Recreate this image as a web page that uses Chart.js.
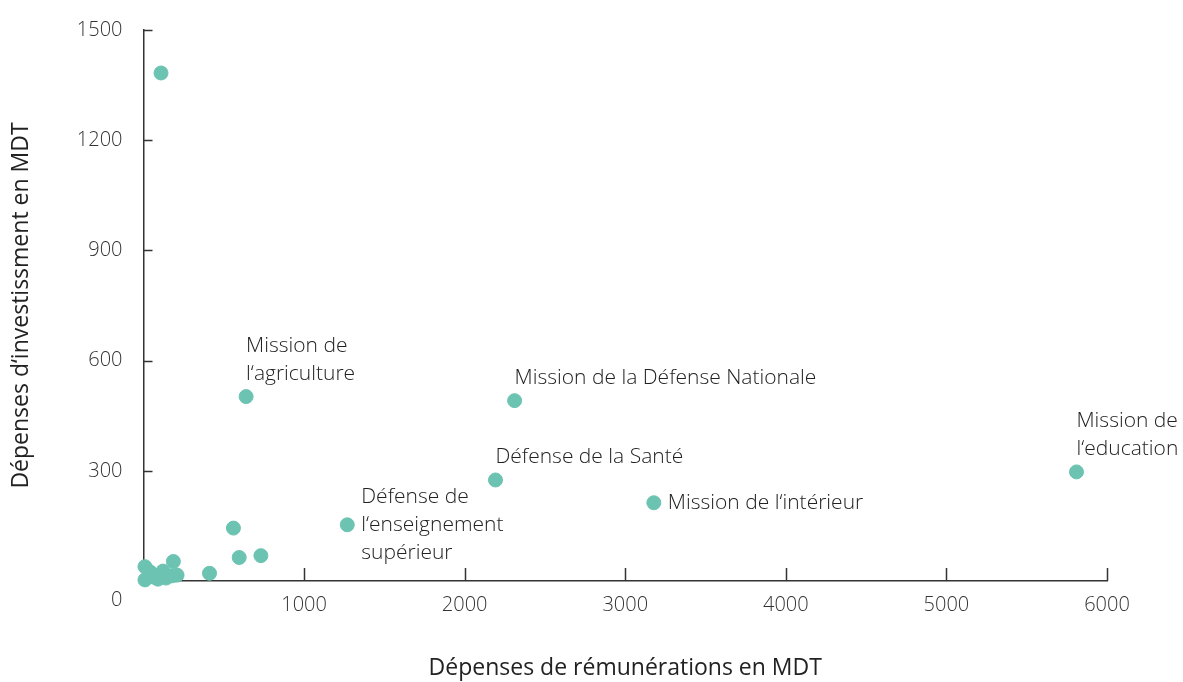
<!DOCTYPE html>
<html>
<head>
<meta charset="utf-8">
<script src="https://cdn.jsdelivr.net/npm/chart.js@4/dist/chart.umd.min.js"></script>
<style>
  html, body { margin: 0; padding: 0; background: #fff; }
  #wrap { width: 1183px; height: 682px; }
</style>
</head>
<body>
<div id="wrap"><canvas id="chart"></canvas></div>
<script>
// remuneration spending (x) vs investment spending (y), MDT
const remunerations = [109, 639, 2311, 2192, 3178, 5810, 1269, 560, 596, 731, 411, 186, 9, 9, 53, 90, 122, 140, 178, 209, 40, 103, 70];
const investissements = [1383, 502, 491, 275, 213, 297, 153, 144, 64, 69, 21, 53, 39, 3, 16, 5, 27, 8, 14, 16, 25, 16, 10];

// labelled missions: index into the arrays above, text lines, placement
const labelIdx = [1, 2, 3, 4, 5, 6];
const labelLines = [
  ["Mission de", "l‘agriculture"],
  ["Mission de la Défense Nationale"],
  ["Défense de la Santé"],
  ["Mission de l‘intérieur"],
  ["Mission de", "l‘education"],
  ["Défense de", "l‘enseignement", "supérieur"],
];
const labelPos = ["above", "above", "above", "right", "above", "right"];

const yTicks = [0, 300, 600, 900, 1200, 1500];
const xTicks = [0, 1000, 2000, 3000, 4000, 5000, 6000];

const FONT = "'Open Sans', sans-serif";
const TEAL = "#6cc3b1";

const points = remunerations.map((x, i) => ({ x: x, y: investissements[i] }));

// inner tick marks + point labels
const extras = {
  id: "extras",
  afterDraw(chart) {
    const ctx = chart.ctx;
    const xs = chart.scales.x, ys = chart.scales.y;
    const area = chart.chartArea;
    ctx.save();
    ctx.strokeStyle = "#333";
    ctx.lineWidth = 1.5;
    xTicks.slice(1).forEach((v) => {
      const px = Math.round(xs.getPixelForValue(v)) + 0.5;
      ctx.beginPath();
      ctx.moveTo(px, area.bottom);
      ctx.lineTo(px, area.bottom - 13);
      ctx.stroke();
    });
    yTicks.slice(1).forEach((v) => {
      const py = Math.round(ys.getPixelForValue(v)) + 0.5;
      ctx.beginPath();
      ctx.moveTo(area.left, py);
      ctx.lineTo(area.left + 9, py);
      ctx.stroke();
    });

    // y "0" label sits below the axis
    ctx.fillStyle = "#333";
    ctx.font = "300 20px " + FONT;
    ctx.textAlign = "right";
    ctx.textBaseline = "middle";
    ctx.fillText("0", area.left - 21, ys.getPixelForValue(0) + 19);

    ctx.textAlign = "left";
    ctx.fillStyle = "#222";
    ctx.font = "300 21px " + FONT;
    labelIdx.forEach((idx, k) => {
      const px = xs.getPixelForValue(remunerations[idx]);
      const py = ys.getPixelForValue(investissements[idx]);
      const lines = labelLines[k];
      const lh = 28;
      if (labelPos[k] === "above") {
        lines.forEach((t, j) => {
          ctx.fillText(t, px, py - 23 - (lines.length - 1 - j) * lh);
        });
      } else {
        const start = py - ((lines.length - 1) * lh) / 2;
        lines.forEach((t, j) => {
          ctx.fillText(t, px + 14, start + j * lh);
        });
      }
    });
    ctx.restore();
  },
};

new Chart(document.getElementById("chart"), {
  type: "scatter",
  data: {
    datasets: [
      {
        data: points,
        backgroundColor: TEAL,
        borderColor: TEAL,
        pointRadius: 7,
        pointHoverRadius: 7,
        clip: false,
      },
    ],
  },
  options: {
    responsive: true,
    maintainAspectRatio: false,
    animation: false,
    layout: { padding: { left: 8, right: 76, top: 30, bottom: 0 } },
    plugins: {
      legend: { display: false },
      tooltip: { enabled: false },
    },
    scales: {
      x: {
        type: "linear",
        min: 0,
        max: 6000,
        afterBuildTicks: (s) => { s.ticks = xTicks.map((v) => ({ value: v })); },
        afterFit: (s) => { s.height = 101; s.paddingLeft = 0; s.paddingRight = 0; },
        grid: { display: false, drawTicks: false },
        border: { display: true, color: "#333", width: 1.5 },
        ticks: {
          padding: 12,
          color: "#333",
          font: { family: FONT, size: 20, weight: "300" },
          callback: (v) => (v === 0 ? "" : v),
          maxRotation: 0,
        },
        title: {
          display: true,
          text: "Dépenses de rémunérations en MDT",
          color: "#222",
          font: { family: FONT, size: 23 },
          padding: { top: 22, bottom: 0 },
        },
      },
      y: {
        type: "linear",
        min: 0,
        max: 1500,
        afterBuildTicks: (s) => { s.ticks = yTicks.map((v) => ({ value: v })); },
        afterFit: (s) => { s.width = 135.5; s.paddingTop = 0; s.paddingBottom = 0; },
        grid: { display: false, drawTicks: false },
        border: { display: true, color: "#333", width: 1.5 },
        ticks: {
          padding: 21,
          color: "#333",
          font: { family: FONT, size: 20, weight: "300" },
          callback: (v) => (v === 0 ? "" : v),
        },
        title: {
          display: true,
          text: "Dépenses d‘investissment en MDT",
          color: "#222",
          font: { family: FONT, size: 23 },
          padding: { top: 0, bottom: 0 },
        },
      },
    },
  },
  plugins: [extras],
});
</script>
</body>
</html>
